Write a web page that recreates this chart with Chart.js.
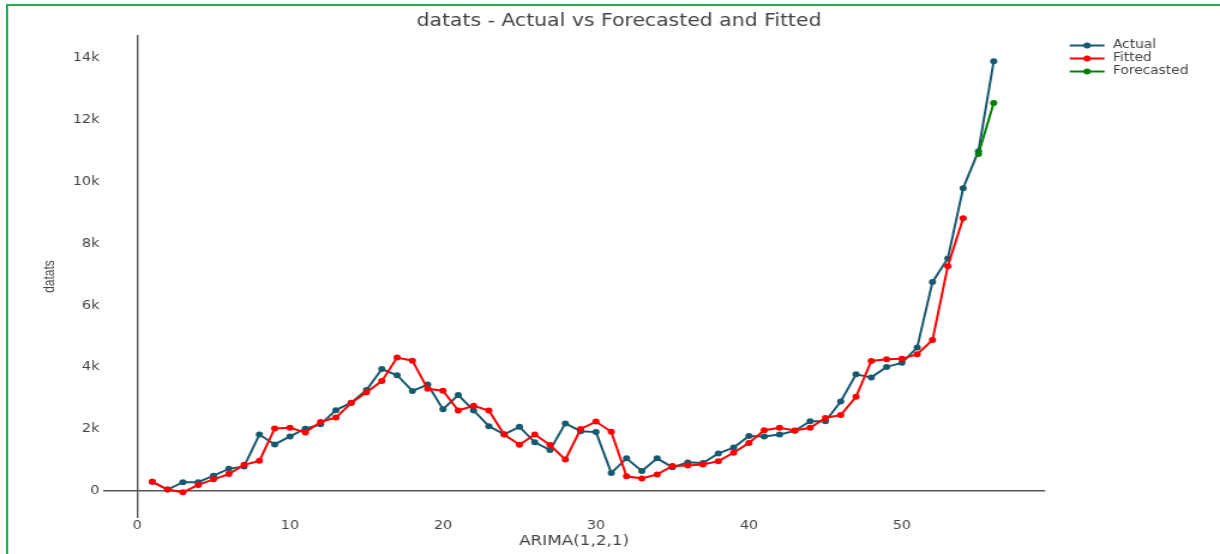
<!DOCTYPE html>
<html>
<head>
<meta charset="utf-8">
<script src="https://cdn.jsdelivr.net/npm/chart.js@4/dist/chart.umd.min.js"></script>
<style>
  html, body { margin: 0; padding: 0; background: #fff; }
  #wrap { position: relative; width: 1220px; height: 554px; overflow: hidden; }
  #plot { position: absolute; left: 0; top: 0; }
  #frame { position: absolute; left: 6px; top: 4px; right: -4px; bottom: -4px;
           border-left: 2px solid #1db14f; border-top: 2px solid #1db14f; pointer-events: none; }
  #frame::after { content: ""; position: absolute; left: 0; top: 0; bottom: 0; border-left: 1px solid #dcdcdc; }
</style>
</head>
<body>
<div id="wrap">
  <!-- the plot is rendered on a narrower canvas and stretched to the page width -->
  <canvas id="plot" width="1017" height="554" style="width:1220px;height:554px"></canvas>
  <div id="frame"></div>
</div>
<script>
// Observation index
const periods = [1, 2, 3, 4, 5, 6, 7, 8, 9, 10, 11, 12, 13, 14, 15, 16, 17, 18, 19, 20,
  21, 22, 23, 24, 25, 26, 27, 28, 29, 30, 31, 32, 33, 34, 35, 36, 37, 38, 39, 40,
  41, 42, 43, 44, 45, 46, 47, 48, 49, 50, 51, 52, 53, 54, 55, 56];

// Observed series
const actual = [290, 40, 280, 280, 490, 710, 790, 1820, 1500, 1760,
  2010, 2150, 2610, 2850, 3260, 3940, 3740, 3230, 3440, 2640,
  3100, 2600, 2090, 1830, 2070, 1570, 1320, 2180, 1930, 1900,
  580, 1050, 640, 1050, 760, 920, 900, 1210, 1400, 1770,
  1760, 1820, 1940, 2250, 2250, 2890, 3770, 3670, 4010, 4140,
  4640, 6760, 7520, 9790, 10990, 13900];

// In-sample fitted values of the ARIMA(1,2,1) model (periods 1..54)
const fitted = [290, 40, -50, 190, 370, 540, 840, 970, 2020, 2040,
  1890, 2230, 2370, 2840, 3190, 3550, 4310, 4210, 3300, 3240,
  2600, 2750, 2600, 1820, 1490, 1820, 1480, 1010, 2000, 2240,
  1910, 470, 400, 530, 800, 820, 850, 960, 1230, 1550,
  1960, 2040, 1950, 2040, 2360, 2450, 3040, 4200, 4260, 4270,
  4420, 4880, 7270, 8820];

// Out-of-sample forecast
const forecastPeriods = [55, 56];
const forecast = [10900, 12550];

// Axis ticks
const xTicks = [0, 10, 20, 30, 40, 50];
const yTicks = [0, 2000, 4000, 6000, 8000, 10000, 12000, 14000];

const toPoints = (xs, ys) => ys.map((v, i) => ({ x: xs[i], y: v }));

const C_ACTUAL = '#19596f';
const C_FITTED = '#ff0000';
const C_FORECAST = '#008000';
const TEXT = '#444';

function series(label, xs, ys, color, order) {
  return {
    label, data: toPoints(xs, ys), order,
    borderColor: color, backgroundColor: color,
    pointBackgroundColor: color, pointBorderWidth: 0,
    pointRadius: 3, pointHoverRadius: 3,
    borderWidth: 2, tension: 0, fill: false
  };
}

// Legend drawn to the right of the plot: line sample with a marker, then the name
const sideLegend = {
  id: 'sideLegend',
  afterDraw(chart, args, o) {
    const ctx = chart.ctx;
    ctx.save();
    ctx.font = o.font;
    ctx.textBaseline = 'middle';
    ctx.textAlign = 'left';
    chart.data.datasets.forEach((ds, i) => {
      const y = o.top + i * o.rowGap;
      const x0 = chart.chartArea.right + o.offset;
      ctx.strokeStyle = ds.borderColor;
      ctx.lineWidth = 2;
      ctx.beginPath();
      ctx.moveTo(x0, y);
      ctx.lineTo(x0 + o.lineLen, y);
      ctx.stroke();
      ctx.fillStyle = ds.borderColor;
      ctx.beginPath();
      ctx.arc(x0 + o.lineLen / 2, y, 3, 0, Math.PI * 2);
      ctx.fill();
      ctx.fillStyle = o.color;
      ctx.fillText(ds.label, x0 + o.lineLen + o.gap, y);
    });
    ctx.restore();
  }
};

const zeroOnly = (ctx) => (ctx.tick && ctx.tick.value === 0 ? '#555' : 'rgba(0,0,0,0)');

new Chart(document.getElementById('plot'), {
  type: 'line',
  data: {
    datasets: [
      series('Actual', periods, actual, C_ACTUAL, 3),
      series('Fitted', periods, fitted, C_FITTED, 2),
      series('Forecasted', forecastPeriods, forecast, C_FORECAST, 1)
    ]
  },
  plugins: [sideLegend],
  options: {
    responsive: false,
    animation: false,
    devicePixelRatio: 1,
    events: [],
    layout: { padding: { left: 15, right: 0, top: 0, bottom: 0 } },
    plugins: {
      legend: { display: false },
      tooltip: { enabled: false },
      title: {
        display: true,
        text: 'datats - Actual vs Forecasted and Fitted',
        color: TEXT,
        font: { family: '"DejaVu Sans", Verdana, sans-serif', size: 17, weight: 'normal', lineHeight: 1.2 },
        padding: { top: 11, bottom: 3.6 }
      },
      sideLegend: {
        font: '11.5px "DejaVu Sans", Verdana, sans-serif',
        color: TEXT, top: 45.5, rowGap: 13, offset: 20.5, lineLen: 29, gap: 7
      }
    },
    scales: {
      x: {
        type: 'linear',
        min: -2.22, max: 59.36,
        border: { display: false },
        grid: { drawTicks: false, color: zeroOnly, lineWidth: 1.4 },
        afterBuildTicks: (s) => { s.ticks = xTicks.map(v => ({ value: v })); },
        ticks: {
          padding: 1, color: TEXT, maxRotation: 0,
          font: { family: '"DejaVu Sans", Verdana, sans-serif', size: 12 }
        },
        title: {
          display: true, text: 'ARIMA(1,2,1)', color: TEXT,
          font: { family: '"DejaVu Sans", Verdana, sans-serif', size: 14, lineHeight: 1.2 },
          padding: { top: 0, bottom: 4 }
        },
        afterFit: (s) => { s.height = 36; }
      },
      y: {
        type: 'linear', position: 'left',
        min: -880, max: 14750,
        border: { display: false },
        grid: { drawTicks: false, color: zeroOnly, lineWidth: 1.4 },
        afterBuildTicks: (s) => { s.ticks = yTicks.map(v => ({ value: v })); },
        ticks: {
          padding: 3, color: TEXT,
          font: { family: '"DejaVu Sans", Verdana, sans-serif', size: 12 },
          callback: (v) => (v === 0 ? '0' : (v / 1000) + 'k')
        },
        title: {
          display: true, text: 'datats', color: TEXT,
          font: { family: '"Liberation Sans", Arial, sans-serif', size: 12, lineHeight: 1.2 },
          padding: { top: 19.5, bottom: 0 }
        },
        afterFit: (s) => { s.width = 70.9; }
      },
      legendSpace: {
        type: 'linear', axis: 'y', position: 'right', display: true,
        border: { display: false },
        grid: { display: false, drawTicks: false },
        ticks: { display: false },
        afterFit: (s) => { s.width = 145.8; }
      }
    }
  }
});
</script>
</body>
</html>
